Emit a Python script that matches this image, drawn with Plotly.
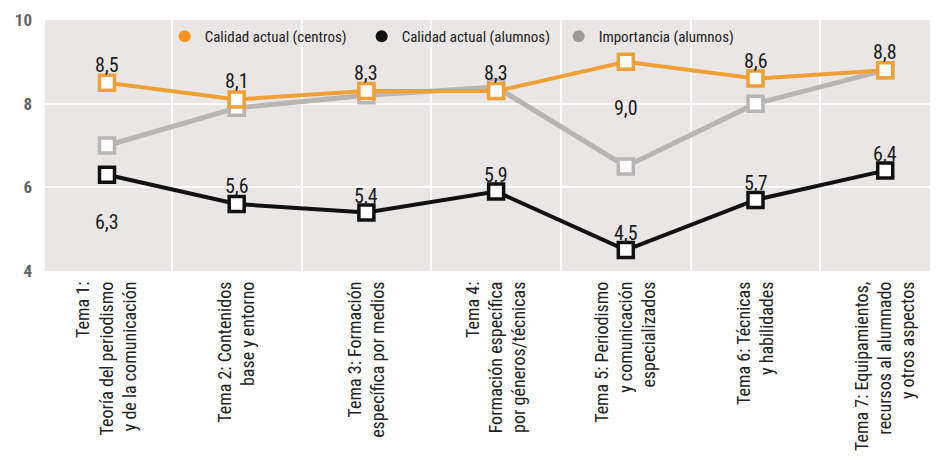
import plotly.graph_objects as go

# data
temas = [
    "Tema 1:<br>Teoría del periodismo<br>y de la comunicación",
    "Tema 2: Contenidos<br>base y entorno",
    "Tema 3: Formación<br>específica por medios",
    "Tema 4:<br>Formación específica<br>por géneros/técnicas",
    "Tema 5: Periodismo<br>y comunicación<br>especializados",
    "Tema 6: Técnicas<br>y habilidades",
    "Tema 7: Equipamientos,<br>recursos al alumnado<br>y otros aspectos",
]
centros = [8.5, 8.1, 8.3, 8.3, 9.0, 8.6, 8.8]
alumnos = [6.3, 5.6, 5.4, 5.9, 4.5, 5.7, 6.4]
importancia = [7.0, 7.9, 8.2, 8.4, 6.5, 8.0, 8.8]

# label offsets in px (style only)
off_centros = [18, 18, 18, 18, -46, 18, 18]
off_alumnos = [-47, 18, 16, 17, 17, 17, 17]

FONT = "Liberation Sans Narrow, Roboto Condensed, Arial Narrow, sans-serif"
ORANGE = "#efa036"
BLACK = "#111111"
GRAY = "#b8b5b4"

fig = go.Figure()

for vals, col, w in [(importancia, GRAY, 5), (alumnos, BLACK, 4), (centros, ORANGE, 4)]:
    fig.add_trace(go.Scatter(
        x=temas, y=vals, mode="lines+markers", showlegend=False,
        line=dict(color=col, width=w),
        marker=dict(symbol="square", size=15, color="white", line=dict(color=col, width=3.5)),
    ))

# legend entries (circles)
for name, col in [("Calidad actual (centros)", "#f7941d"), ("Calidad actual (alumnos)", BLACK),
                  ("Importancia (alumnos)", "#9c9a99")]:
    fig.add_trace(go.Scatter(x=[None], y=[None], mode="markers", name=name,
                             marker=dict(symbol="circle", size=12, color=col)))

for vals, offs in [(centros, off_centros), (alumnos, off_alumnos)]:
    for t, v, o in zip(temas, vals, offs):
        fig.add_annotation(x=t, y=v, text=f"{v:.1f}".replace(".", ","), showarrow=False,
                           yshift=o, font=dict(family=FONT, size=20, color="#1a1a1a"))

fig.update_layout(
    width=930, height=454,
    margin=dict(l=37, r=0, t=12, b=191),
    paper_bgcolor="white", plot_bgcolor="#e9e6e5",
    font=dict(family=FONT, color="#222"),
    legend=dict(orientation="h", x=0.134, y=0.934, xanchor="left", yanchor="middle",
                bgcolor="rgba(0,0,0,0)", font=dict(size=15, color="#222"),
                entrywidth=152, entrywidthmode="pixels", itemwidth=30, tracegroupgap=0),
    xaxis=dict(type="category", range=[-0.478, 6.407], tickson="boundaries",
               showgrid=True, gridcolor="white", gridwidth=2, ticks="",
               tickangle=-90, tickfont=dict(size=18, color="#222"), zeroline=False,
               ticklabelstandoff=6),
    yaxis=dict(range=[4, 10], tickvals=[4, 6, 8, 10], showgrid=True, gridcolor="white",
               gridwidth=2, zeroline=False, ticks="", ticklabelstandoff=12,
               tickfont=dict(size=17, color="#666", weight="bold")),
)

fig.write_html("out.html")
